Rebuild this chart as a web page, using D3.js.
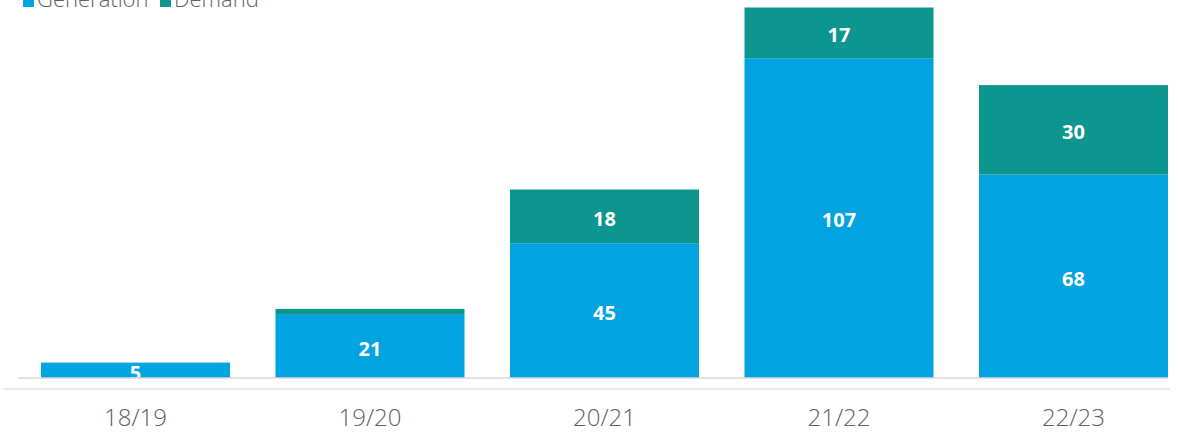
<!DOCTYPE html>
<html>
<head>
<meta charset="utf-8">
<script src="https://cdn.jsdelivr.net/npm/d3@7/dist/d3.min.js"></script>
<style>
  html, body { margin: 0; padding: 0; background: #fff; overflow: hidden; }
  svg { display: block; }
</style>
</head>
<body>
<svg id="chart" width="1178" height="435"></svg>
<script>
const categories = ["18/19", "19/20", "20/21", "21/22", "22/23"];
const generation = [5, 21, 45, 107, 68];
const demand = [0, 2, 18, 17, 30];
const seriesNames = ["Generation", "Demand"];
const seriesColors = ["#01A3E1", "#0C968F"];

const svg = d3.select("#chart");

const rows = categories.map((c, i) => ({ cat: c, Generation: generation[i], Demand: demand[i] }));
const stack = d3.stack().keys(seriesNames)(rows);

const x = d3.scaleBand().domain(categories).range([18.25, 1190.75]).paddingInner(0.194).paddingOuter(0.097);
const y = d3.scaleLinear().domain([0, 124]).range([377.5, 7.5]);
const color = d3.scaleOrdinal().domain(seriesNames).range(seriesColors);

// lower light line
svg.append("line").attr("x1", 3).attr("x2", 1170).attr("y1", 389).attr("y2", 389)
  .attr("stroke", "#e2e2e2").attr("stroke-width", 1.5);

const defs = svg.append("defs");

const layers = svg.append("g").selectAll("g").data(stack).join("g")
  .attr("fill", d => color(d.key));

layers.selectAll("rect").data(d => d.map(v => ({ key: d.key, v }))).join("rect")
  .attr("x", d => x(d.v.data.cat))
  .attr("width", x.bandwidth())
  .attr("y", d => y(d.v[1]))
  .attr("height", d => Math.max(0, y(d.v[0]) - y(d.v[1])));

// baseline
svg.append("line").attr("x1", 18).attr("x2", 1168).attr("y1", 378).attr("y2", 378)
  .attr("stroke", "#c4c4c4").attr("stroke-width", 1);

// value labels
const labels = [];
stack.forEach(s => s.forEach(v => {
  const val = v[1] - v[0];
  if (val >= 5) labels.push({ key: s.key, v, val });
}));
labels.forEach((d, i) => {
  const id = "clip" + i;
  defs.append("clipPath").attr("id", id).append("rect")
    .attr("x", x(d.v.data.cat)).attr("width", x.bandwidth())
    .attr("y", y(d.v[1])).attr("height", y(d.v[0]) - y(d.v[1]));
  svg.append("text")
    .attr("clip-path", `url(#${id})`)
    .attr("x", x(d.v.data.cat) + x.bandwidth() / 2)
    .attr("y", (y(d.v[0]) + y(d.v[1])) / 2 + 2)
    .attr("text-anchor", "middle")
    .attr("dominant-baseline", "central")
    .attr("fill", "#fff")
    .attr("font-family", "'Open Sans', 'Noto Sans', sans-serif")
    .attr("font-weight", 700)
    .attr("font-size", 20)
    .text(d.val);
});

// x axis labels
const xAxis = d3.axisBottom(x).tickSize(0).tickPadding(0);
const gx = svg.append("g").attr("transform", "translate(0,409)").call(xAxis);
gx.select(".domain").remove();
gx.selectAll("text")
  .attr("fill", "#606060")
  .attr("font-family", "'Open Sans', 'Noto Sans', sans-serif")
  .attr("font-weight", 300)
  .attr("font-size", 24)
  .attr("dy", "0.71em");

// legend (partially cut off at top, as in the reference)
const legend = svg.append("g").attr("transform", "translate(23,7)");
const legX = [0, 137];
seriesNames.forEach((n, i) => {
  const g = legend.append("g").attr("transform", `translate(${legX[i]},0)`);
  g.append("rect").attr("x", 0).attr("y", -11).attr("width", 11).attr("height", 11).attr("fill", color(n));
  g.append("text").attr("x", 14).attr("y", 0)
    .attr("fill", "#606060")
    .attr("font-family", "'Open Sans', 'Noto Sans', sans-serif")
    .attr("font-weight", 300)
    .attr("font-size", 22)
    .text(n);
});
</script>
</body>
</html>
